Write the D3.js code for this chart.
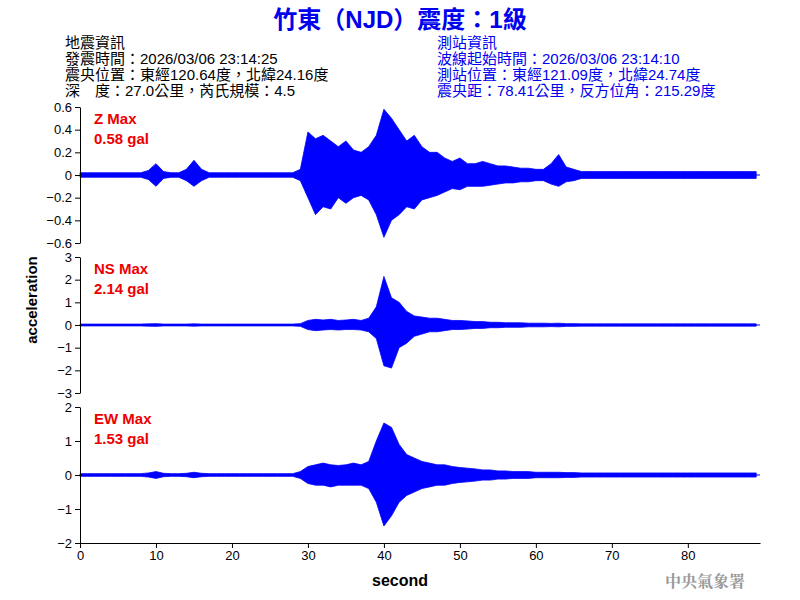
<!DOCTYPE html>
<html><head><meta charset="utf-8">
<script src="https://cdn.jsdelivr.net/npm/d3@7"></script>
<style>body{margin:0;background:#fff}text{font-family:Arial,"Liberation Sans","Noto Sans CJK TC",sans-serif}</style>
</head><body><svg id="chart" width="800" height="600"></svg>
<script>
// envelope of each trace, one value per second (0..89 s)
const seconds = d3.range(0, 90);
const zUp = [0.02,0.02,0.02,0.02,0.02,0.02,0.02,0.02,0.02,0.04,0.1,0.03,0.02,0.02,0.05,0.13,0.05,0.02,0.02,0.02,
  0.02,0.02,0.02,0.02,0.02,0.02,0.02,0.02,0.02,0.05,0.38,0.32,0.35,0.3,0.25,0.3,0.22,0.2,0.25,0.35,
  0.58,0.5,0.4,0.3,0.35,0.25,0.2,0.2,0.15,0.12,0.15,0.1,0.1,0.12,0.1,0.08,0.08,0.07,0.06,0.06,
  0.05,0.05,0.1,0.18,0.07,0.05,0.03,0.03,0.03,0.03,0.03,0.03,0.03,0.03,0.03,0.03,0.03,0.03,0.03,0.03,
  0.03,0.03,0.03,0.03,0.03,0.03,0.03,0.03,0.03,0.03];
const zDown = [-0.02,-0.02,-0.02,-0.02,-0.02,-0.02,-0.02,-0.02,-0.02,-0.04,-0.1,-0.03,-0.02,-0.02,-0.05,-0.1,-0.05,-0.02,-0.02,-0.02,
  -0.02,-0.02,-0.02,-0.02,-0.02,-0.02,-0.02,-0.02,-0.02,-0.05,-0.2,-0.35,-0.28,-0.3,-0.2,-0.25,-0.2,-0.18,-0.22,-0.35,
  -0.55,-0.4,-0.35,-0.28,-0.3,-0.22,-0.2,-0.18,-0.15,-0.12,-0.13,-0.1,-0.1,-0.1,-0.09,-0.08,-0.07,-0.07,-0.06,-0.06,
  -0.05,-0.05,-0.08,-0.1,-0.06,-0.05,-0.03,-0.03,-0.03,-0.03,-0.03,-0.03,-0.03,-0.03,-0.03,-0.03,-0.03,-0.03,-0.03,-0.03,
  -0.03,-0.03,-0.03,-0.03,-0.03,-0.03,-0.03,-0.03,-0.03,-0.03];
const nsUp = [0.04,0.04,0.04,0.04,0.04,0.04,0.04,0.04,0.04,0.05,0.06,0.04,0.04,0.04,0.04,0.05,0.04,0.04,0.04,0.04,
  0.04,0.04,0.04,0.04,0.04,0.04,0.04,0.04,0.04,0.06,0.2,0.25,0.22,0.25,0.2,0.22,0.25,0.2,0.3,0.8,
  2.14,1.2,1.0,0.6,0.4,0.35,0.3,0.3,0.25,0.2,0.2,0.18,0.15,0.15,0.12,0.12,0.1,0.1,0.1,0.08,
  0.08,0.08,0.07,0.08,0.06,0.06,0.05,0.05,0.05,0.05,0.05,0.05,0.05,0.05,0.05,0.05,0.05,0.05,0.05,0.05,
  0.05,0.05,0.05,0.05,0.05,0.05,0.05,0.05,0.05,0.05];
const nsDown = [-0.04,-0.04,-0.04,-0.04,-0.04,-0.04,-0.04,-0.04,-0.04,-0.05,-0.06,-0.04,-0.04,-0.04,-0.04,-0.05,-0.04,-0.04,-0.04,-0.04,
  -0.04,-0.04,-0.04,-0.04,-0.04,-0.04,-0.04,-0.04,-0.04,-0.06,-0.2,-0.25,-0.22,-0.2,-0.22,-0.2,-0.2,-0.22,-0.3,-0.6,
  -1.8,-1.9,-1.0,-0.8,-0.5,-0.4,-0.3,-0.3,-0.25,-0.2,-0.2,-0.18,-0.15,-0.15,-0.12,-0.12,-0.1,-0.1,-0.1,-0.08,
  -0.08,-0.08,-0.07,-0.08,-0.06,-0.06,-0.05,-0.05,-0.05,-0.05,-0.05,-0.05,-0.05,-0.05,-0.05,-0.05,-0.05,-0.05,-0.05,-0.05,
  -0.05,-0.05,-0.05,-0.05,-0.05,-0.05,-0.05,-0.05,-0.05,-0.05];
const ewUp = [0.04,0.04,0.04,0.04,0.04,0.04,0.04,0.04,0.04,0.06,0.1,0.05,0.04,0.04,0.05,0.08,0.05,0.04,0.04,0.04,
  0.04,0.04,0.04,0.04,0.04,0.04,0.04,0.04,0.04,0.1,0.25,0.3,0.35,0.3,0.28,0.3,0.35,0.3,0.4,1.0,
  1.53,1.4,0.9,0.6,0.5,0.4,0.35,0.3,0.3,0.25,0.22,0.2,0.18,0.15,0.15,0.12,0.12,0.1,0.1,0.1,
  0.08,0.08,0.08,0.08,0.07,0.07,0.06,0.06,0.06,0.06,0.06,0.06,0.06,0.06,0.06,0.06,0.06,0.06,0.06,0.06,
  0.06,0.06,0.06,0.06,0.06,0.06,0.06,0.06,0.06,0.06];
const ewDown = [-0.04,-0.04,-0.04,-0.04,-0.04,-0.04,-0.04,-0.04,-0.04,-0.06,-0.1,-0.05,-0.04,-0.04,-0.05,-0.08,-0.05,-0.04,-0.04,-0.04,
  -0.04,-0.04,-0.04,-0.04,-0.04,-0.04,-0.04,-0.04,-0.04,-0.1,-0.25,-0.3,-0.3,-0.35,-0.3,-0.3,-0.3,-0.3,-0.4,-0.8,
  -1.5,-1.2,-0.8,-0.6,-0.5,-0.4,-0.35,-0.3,-0.3,-0.25,-0.22,-0.2,-0.18,-0.15,-0.15,-0.12,-0.12,-0.1,-0.1,-0.1,
  -0.08,-0.08,-0.08,-0.08,-0.07,-0.07,-0.06,-0.06,-0.06,-0.06,-0.06,-0.06,-0.06,-0.06,-0.06,-0.06,-0.06,-0.06,-0.06,-0.06,
  -0.06,-0.06,-0.06,-0.06,-0.06,-0.06,-0.06,-0.06,-0.06,-0.06];

const panels = [
  {label: "Z Max", max: "0.58 gal", up: zUp, down: zDown, lim: 0.6, ticks: [-0.6,-0.4,-0.2,0,0.2,0.4,0.6], top: 107, bottom: 243},
  {label: "NS Max", max: "2.14 gal", up: nsUp, down: nsDown, lim: 3, ticks: [-3,-2,-1,0,1,2,3], top: 257, bottom: 393},
  {label: "EW Max", max: "1.53 gal", up: ewUp, down: ewDown, lim: 2, ticks: [-2,-1,0,1,2], top: 407, bottom: 543}
];
const xTicks = [0,10,20,30,40,50,60,70,80];
const infoLeft = ["地震資訊","發震時間：2026/03/06 23:14:25","震央位置：東經120.64度，北緯24.16度","深　度：27.0公里，芮氏規模：4.5"];
const infoRight = ["測站資訊","波線起始時間：2026/03/06 23:14:10","測站位置：東經121.09度，北緯24.74度","震央距：78.41公里，反方位角：215.29度"];

const svg = d3.select("#chart");
const x = d3.scaleLinear().domain([0, 89.5]).range([80, 760]);

svg.append("text").attr("x", 400).attr("y", 28).attr("text-anchor", "middle")
  .attr("fill", "#0000ee").style("font-size", "24px").style("font-weight", "bold")
  .text("竹東（NJD）震度：1級");

infoLeft.forEach((t, i) => svg.append("text").attr("x", 65).attr("y", 48 + i * 16)
  .style("font-size", "15px").attr("fill", "#000").text(t));
infoRight.forEach((t, i) => svg.append("text").attr("x", 437).attr("y", 48 + i * 16)
  .style("font-size", "15px").attr("fill", "#0000ee").text(t));

panels.forEach(p => {
  const y = d3.scaleLinear().domain([-p.lim, p.lim]).range([p.bottom, p.top]);
  const area = d3.area().x((d, i) => x(seconds[i])).y0((d, i) => y(p.down[i])).y1(d => y(d));
  svg.append("path").datum(p.up).attr("d", area).attr("fill", "#0000ff")
    .attr("stroke", "#0000ff").attr("stroke-width", 0.8);
  svg.append("line").attr("x1", x(0)).attr("x2", x(89.5)).attr("y1", y(0)).attr("y2", y(0))
    .attr("stroke", "#0000ff").attr("stroke-width", 1);
  const ax = svg.append("g").attr("transform", "translate(80,0)")
    .call(d3.axisLeft(y).tickValues(p.ticks).tickSize(5).tickSizeOuter(0).tickFormat(d => d === 0 ? "0" : d3.format("")(+d.toFixed(1))));
  ax.selectAll("text").style("font-size", "13px").attr("fill", "#000");
  ax.selectAll("line,path").attr("stroke", "#000");
  svg.append("text").attr("x", 94).attr("y", p.top + 17).attr("fill", "#ee0000")
    .style("font-size", "15px").style("font-weight", "bold").text(p.label);
  svg.append("text").attr("x", 94).attr("y", p.top + 37).attr("fill", "#ee0000")
    .style("font-size", "15px").style("font-weight", "bold").text(p.max);
});

const xa = svg.append("g").attr("transform", "translate(0,543)")
  .call(d3.axisBottom(x).tickValues(xTicks).tickSize(5).tickSizeOuter(0));
xa.selectAll("text").style("font-size", "13px").attr("fill", "#000");
xa.selectAll("line,path").attr("stroke", "#000");

svg.append("text").attr("x", 400).attr("y", 586).attr("text-anchor", "middle")
  .style("font-size", "16px").style("font-weight", "bold").text("second");
svg.append("text").attr("transform", "translate(37,300) rotate(-90)").attr("text-anchor", "middle")
  .style("font-size", "15px").style("font-weight", "bold").text("acceleration");
svg.append("text").attr("x", 745).attr("y", 587).attr("text-anchor", "end").attr("fill", "#999")
  .style("font-size", "16px").style("font-weight", "bold").style("font-family", "'Noto Serif CJK TC','Noto Sans CJK TC',serif")
  .text("中央氣象署");
</script></body></html>
